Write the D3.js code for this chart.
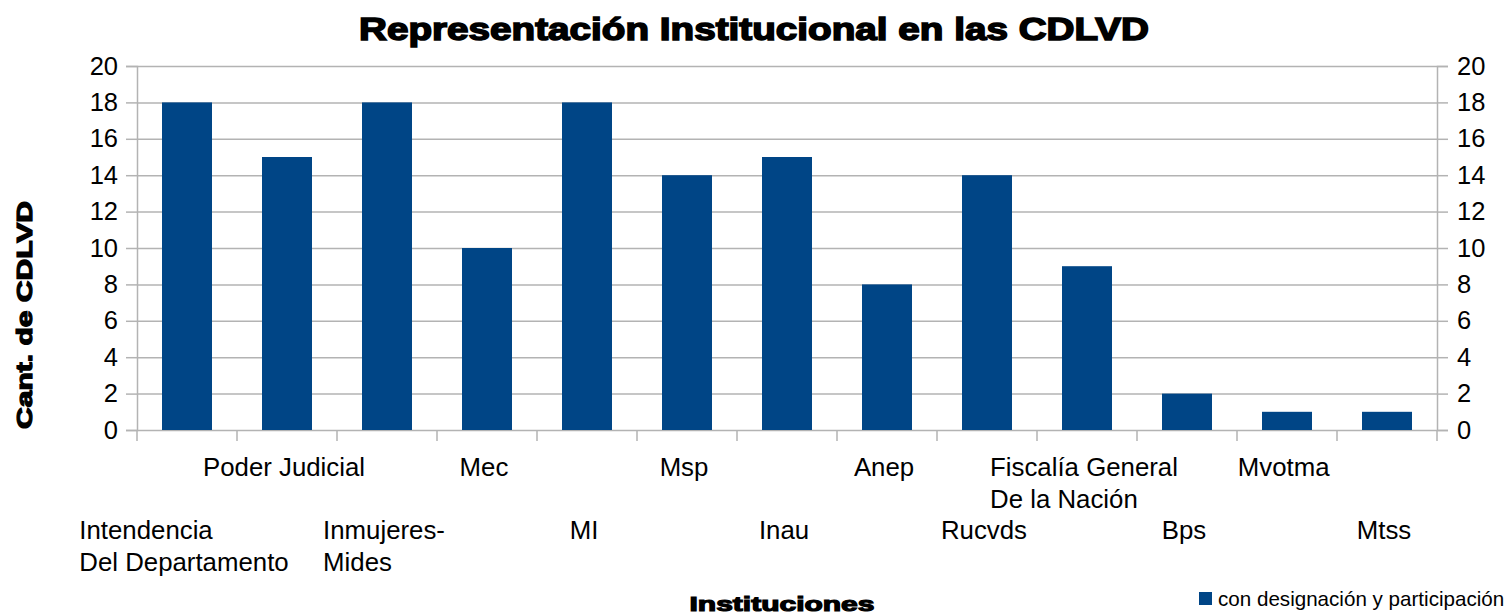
<!DOCTYPE html>
<html>
<head>
<meta charset="utf-8">
<script src="https://cdn.jsdelivr.net/npm/d3@7"></script>
<style>
  body { margin: 0; background: #fff; }
  text { font-family: "Liberation Sans", Arial, sans-serif; fill: #000; }
  .heavy { font-weight: bold; }
</style>
</head>
<body>
<svg id="chart" width="1508" height="616"></svg>
<script>
// data
const categories = [
  ["Intendencia", "Del Departamento"],
  ["Poder Judicial"],
  ["Inmujeres-", "Mides"],
  ["Mec"],
  ["MI"],
  ["Msp"],
  ["Inau"],
  ["Anep"],
  ["Rucvds"],
  ["Fiscalía General", "De la Nación"],
  ["Bps"],
  ["Mvotma"],
  ["Mtss"]
];
const values = [18, 15, 18, 10, 18, 14, 15, 8, 14, 9, 2, 1, 1];
const yTicks = [0, 2, 4, 6, 8, 10, 12, 14, 16, 18, 20];
const seriesName = "con designación y participación";
const title = "Representación Institucional en las CDLVD";
const yTitle = "Cant. de CDLVD";
const xTitle = "Instituciones";

const margin = {left: 137, right: 71, top: 66, bottom: 186};
const W = 1508, H = 616;
const svg = d3.select("#chart");
const grey = "#b3b3b3";
const blue = "#004586";

const x = d3.scaleBand()
  .domain(d3.range(categories.length))
  .range([margin.left, W - margin.right])
  .paddingInner(0.5).paddingOuter(0.25);
const y = d3.scaleLinear().domain([0, 20]).range([H - margin.bottom, margin.top]);

// grid lines
svg.append("g").selectAll("line")
  .data(yTicks)
  .enter().append("line")
  .attr("x1", margin.left).attr("x2", W - margin.right)
  .attr("y1", d => y(d) + 0.5).attr("y2", d => y(d) + 0.5)
  .attr("stroke", grey).attr("stroke-width", 1.5);

// bars
svg.append("g").selectAll("rect")
  .data(values)
  .enter().append("rect")
  .attr("x", (d, i) => x(i))
  .attr("width", x.bandwidth())
  .attr("y", d => y(d))
  .attr("height", d => y(0) - y(d))
  .attr("fill", blue);

// y axes
const yLeft = svg.append("g")
  .attr("transform", `translate(${margin.left},0)`)
  .call(d3.axisLeft(y).tickValues(yTicks).tickSize(11).tickPadding(8));
const yRight = svg.append("g")
  .attr("transform", `translate(${W - margin.right},0)`)
  .call(d3.axisRight(y).tickValues(yTicks).tickSize(11).tickPadding(9));
[yLeft, yRight].forEach(g => {
  g.select(".domain").attr("stroke", grey).attr("stroke-width", 1.5);
  g.selectAll(".tick line").attr("stroke", grey).attr("stroke-width", 1.5);
  g.selectAll(".tick text").attr("font-size", 25.5).attr("fill", "#000");
});

// x axis ticks at category boundaries
const step = x.step();
const bounds = d3.range(categories.length + 1).map(i => margin.left + i * step);
svg.append("g").selectAll("line")
  .data(bounds)
  .enter().append("line")
  .attr("x1", d => d).attr("x2", d => d)
  .attr("y1", y(0)).attr("y2", y(0) + 11)
  .attr("stroke", grey).attr("stroke-width", 1.5);

// x labels, staggered, left aligned block centred on the bar
const lab = svg.append("g").attr("font-size", 25.8);
categories.forEach((lines, i) => {
  const cx = x(i) + x.bandwidth() / 2;
  const base = i % 2 === 1 ? 476 : 539;
  const t = lab.append("text").attr("y", base);
  lines.forEach((l, k) => {
    t.append("tspan").attr("x", 0).attr("dy", k === 0 ? 0 : 31.5).text(l);
  });
  const w = t.node().getBBox().width;
  t.attr("transform", `translate(${cx - w / 2 - 3},0)`);
});

// title
svg.append("text").attr("class", "heavy")
  .attr("x", 754).attr("y", 40)
  .attr("text-anchor", "middle")
  .attr("font-size", 30.5)
  .attr("stroke", "#000").attr("stroke-width", 1.5)
  .attr("textLength", 790).attr("lengthAdjust", "spacingAndGlyphs")
  .text(title);

// axis titles
svg.append("text").attr("class", "heavy")
  .attr("transform", "translate(32,315) rotate(-90)")
  .attr("text-anchor", "middle")
  .attr("font-size", 22)
  .attr("stroke", "#000").attr("stroke-width", 1.2)
  .attr("textLength", 228).attr("lengthAdjust", "spacingAndGlyphs")
  .text(yTitle);
svg.append("text").attr("class", "heavy")
  .attr("x", 782).attr("y", 611)
  .attr("text-anchor", "middle")
  .attr("font-size", 21)
  .attr("stroke", "#000").attr("stroke-width", 1.2)
  .attr("textLength", 185).attr("lengthAdjust", "spacingAndGlyphs")
  .text(xTitle);

// legend
const leg = svg.append("g");
leg.append("rect").attr("x", 1199).attr("y", 592).attr("width", 13).attr("height", 13).attr("fill", blue);
leg.append("text").attr("x", 1218).attr("y", 606).attr("font-size", 20.6).text(seriesName);
</script>
</body>
</html>
